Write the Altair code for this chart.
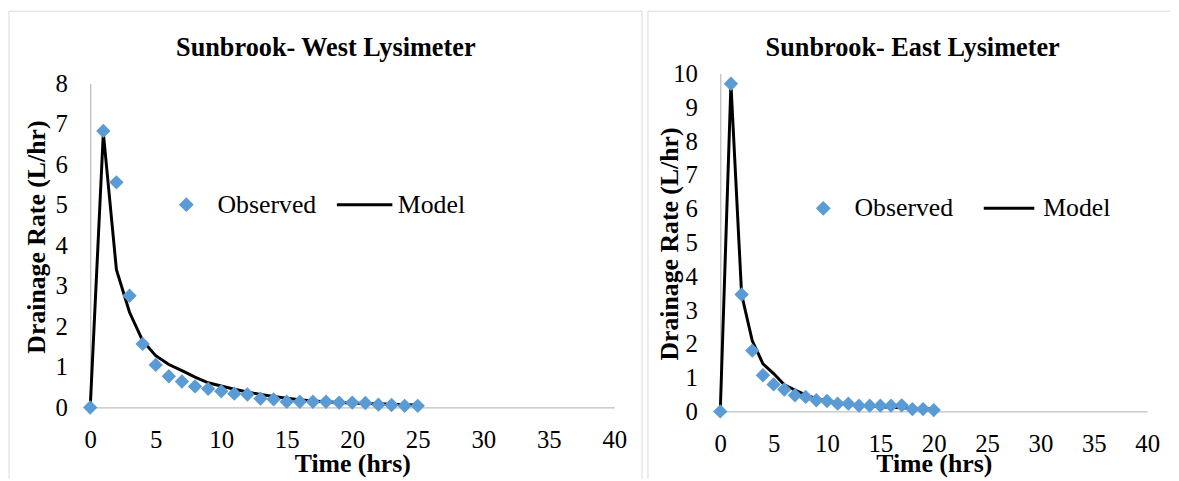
import altair as alt
import pandas as pd

# ---------------- data ----------------
west_time = list(range(0, 26))
west_observed = [0, 6.83, 5.56, 2.76, 1.57, 1.05, 0.77, 0.64, 0.52, 0.46, 0.40, 0.34, 0.32,
                 0.22, 0.20, 0.14, 0.14, 0.14, 0.14, 0.12, 0.12, 0.11, 0.07, 0.06, 0.04, 0.04]
west_model = [0, 6.78, 3.40, 2.35, 1.65, 1.28, 1.06, 0.91, 0.75, 0.61, 0.53, 0.45, 0.38,
              0.32, 0.27, 0.23, 0.19, 0.16, 0.14, 0.12, 0.11, 0.10, 0.09, 0.08, 0.07, 0.06]

east_time = list(range(0, 21))
east_observed = [0, 9.70, 3.46, 1.80, 1.07, 0.80, 0.65, 0.48, 0.43, 0.33, 0.31, 0.23, 0.23,
                 0.17, 0.17, 0.17, 0.17, 0.18, 0.07, 0.07, 0.04]
east_model = [0, 9.70, 3.46, 2.09, 1.41, 1.12, 0.79, 0.63, 0.49, 0.38, 0.31, 0.26, 0.22,
              0.19, 0.16, 0.14, 0.12, 0.11, 0.09, 0.08, 0.07]

x_ticks = [0, 5, 10, 15, 20, 25, 30, 35, 40]
west_y_ticks = [0, 1, 2, 3, 4, 5, 6, 7, 8]
east_y_ticks = [0, 1, 2, 3, 4, 5, 6, 7, 8, 9, 10]

titles = ["Sunbrook- West Lysimeter", "Sunbrook- East Lysimeter"]
series_names = ["Observed", "Model"]
x_title = "Time (hrs)"
y_title = "Drainage Rate (L/hr)"

FONT = "Liberation Serif"
BLUE = "#5B9BD5"
BORDER = "#D9D9D9"
AXIS = "#BFBFBF"

VIEW_H = 341


def panel(time, obs, model, ymax, yticks, w, title, cfg):
    obs_df = pd.DataFrame({"Time": time, "Rate": obs, "Series": series_names[0]})
    mod_df = pd.DataFrame({"Time": time, "Rate": model, "Series": series_names[1]})

    x = alt.X("Time:Q", scale=alt.Scale(domain=[0, 40], nice=False, zero=False),
              axis=alt.Axis(values=x_ticks, title=x_title, grid=False, ticks=False,
                            offset=cfg["xoff"],
                            domainColor=AXIS, domainWidth=1.3,
                            labelFont=FONT, labelFontSize=25, labelColor="black",
                            labelPadding=20, labelFlush=False, labelOverlap=False, labelBound=False,
                            titleFont=FONT, titleFontSize=26, titleFontWeight="bold",
                            titleColor="black", titleX=w / 2, titleY=cfg["xty"],
                            titleAlign="center", titleBaseline="alphabetic"))
    y = alt.Y("Rate:Q", scale=alt.Scale(domain=[0, ymax], nice=False, range=cfg["yrange"]),
              axis=alt.Axis(values=yticks, title=y_title, grid=False, ticks=False,
                            domainColor=AXIS, domainWidth=1.3,
                            labelFont=FONT, labelFontSize=25, labelColor="black",
                            labelPadding=23, labelFlush=False, labelOverlap=False, labelBound=False,
                            titleFont=FONT, titleFontSize=26, titleFontWeight="bold",
                            titleColor="black", titleAngle=270, titleX=cfg["ytx"],
                            titleY=cfg["yty"], titleAlign="center", titleBaseline="middle"))

    line = alt.Chart(mod_df).mark_line(strokeWidth=3, color="black").encode(
        x=x, y=y,
        color=alt.Color("Series:N", scale=alt.Scale(domain=[series_names[1]], range=["black"]),
                        legend=alt.Legend(title=None, orient="none", legendX=cfg["lx2"],
                                          legendY=cfg["ly2"], symbolType="stroke",
                                          symbolSize=cfg["lsize"], symbolStrokeWidth=3,
                                          labelFont=FONT, labelFontSize=26, labelColor="black",
                                          labelOffset=cfg["lo2"], padding=0)))
    pts = alt.Chart(obs_df).mark_point(shape="diamond", filled=True, size=210, opacity=1,
                                       strokeWidth=0).encode(
        x=x, y=y,
        color=alt.Color("Series:N", scale=alt.Scale(domain=[series_names[0]], range=[BLUE]),
                        legend=alt.Legend(title=None, orient="none", legendX=cfg["lx1"],
                                          legendY=cfg["ly1"], symbolType="diamond",
                                          symbolSize=225, symbolStrokeWidth=0, symbolOpacity=1,
                                          labelFont=FONT, labelFontSize=26, labelColor="black",
                                          labelOffset=18.5, padding=0)))

    frame_df = pd.DataFrame({"k": [0]})
    frame_layers = []
    for (x1, x2, y1, y2) in cfg["frame"]:
        frame_layers.append(
            alt.Chart(frame_df).mark_rule(color=BORDER, strokeWidth=1).encode(
                x=alt.value(x1), x2=alt.value(x2), y=alt.value(y1), y2=alt.value(y2)))

    return alt.layer(*frame_layers, line, pts).resolve_scale(color="independent").properties(
        width=w, height=VIEW_H,
        title=alt.TitleParams(title, font=FONT, fontSize=26.5, fontWeight="bold", color="black",
                              anchor="middle", frame="group", baseline="alphabetic",
                              offset=0, dx=cfg["tdx"], dy=cfg["tdy"]))


left_cfg = dict(yrange=[337, 10], xoff=-4, xty=65, ytx=-54, yty=164.5,
                lx1=84, ly1=119.3, lx2=247.5, ly2=102.8, lo2=4, lsize=3136,
                tdx=-26.7, tdy=72,
                frame=[(-82, 557, -63, -63), (-82, -82, -63, 409), (557, 557, -63, 409)])
right_cfg = dict(yrange=[341, 0], xoff=0, xty=61, ytx=-51, yty=171.5,
                 lx1=91, ly1=123, lx2=264.5, ly2=109, lo2=7.5, lsize=2601,
                 tdx=-21.3, tdy=72,
                 frame=[(-73, 454, -63, -63), (-73, -73, -63, 409)])

left = panel(west_time, west_observed, west_model, 8, west_y_ticks, 529, titles[0], left_cfg)
right = panel(east_time, east_observed, east_model, 10, east_y_ticks, 431, titles[1], right_cfg)

chart = alt.hconcat(left, right, spacing=4, padding=0, background="white").configure_view(stroke=None)

chart.save("out.html", embed_options={"renderer": "svg", "actions": False})
